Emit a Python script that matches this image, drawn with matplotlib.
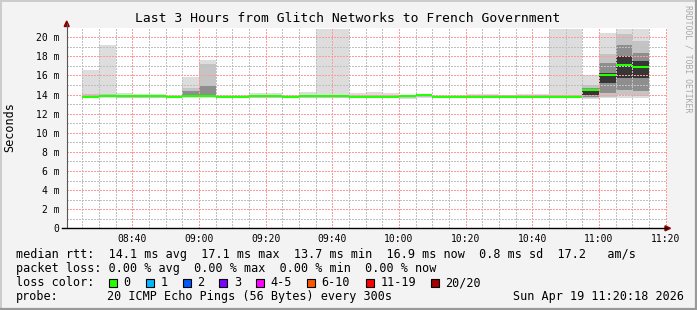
"""SmokePing style latency chart."""
import datetime as dt

import matplotlib

matplotlib.use("Agg")
import matplotlib.dates as mdates
import matplotlib.pyplot as plt
import numpy as np
from matplotlib.lines import Line2D
from matplotlib.patches import Polygon, Rectangle

nan = np.nan

# time bins (300 s step)
first_bin = dt.datetime(2026, 4, 19, 8, 25)
view_start = dt.datetime(2026, 4, 19, 8, 20, 18)
view_end = dt.datetime(2026, 4, 19, 11, 20, 18)
n_bins = 34

# median rtt per bin (ms)
median_ms = [13.76, 13.86, 13.86, 13.86, 13.86, 13.76, 13.86, 13.86, 13.76, 13.76,
             13.86, 13.86, 13.76, 13.84, 13.84, 13.84, 13.77, 13.77, 13.78, 13.86,
             13.93, 13.77, 13.77, 13.77, 13.77, 13.77, 13.77, 13.77, 13.77, 13.77,
             14.52, 16.05, 17.10, 16.89]

# smoke, outermost band (min .. max ping)
smoke1_lo = [13.62, 13.62, 13.62, 13.62, 13.62, 13.62, 13.62, 13.62, 13.62, 13.62,
             13.62, 13.62, 13.62, 13.62, 13.62, 13.62, 13.62, 13.62, 13.62, 13.58,
             13.62, 13.62, 13.62, 13.62, 13.62, 13.62, 13.62, 13.62, 13.62, 13.62,
             13.55, 13.60, 13.62, 13.62]
smoke1_hi = [16.60, 19.20, 14.17, 14.06, 14.06, 13.97, 15.80, 17.60, 13.95, 13.95,
             14.13, 14.13, 13.97, 14.27, 20.90, 20.90, 14.13, 14.24, 14.16, 14.00,
             14.05, 13.95, 13.97, 14.10, 14.05, 13.97, 14.10, 14.05, 20.90, 20.90,
             16.05, 20.45, 20.90, 20.90]

# smoke, second band
smoke2_lo = [13.68, 13.70, 13.68, 13.68, 13.68, 13.68, 13.70, 13.70, 13.68, 13.68,
             13.68, 13.68, 13.68, 13.68, 13.68, 13.68, 13.68, 13.68, 13.68, 13.66,
             13.70, 13.68, 13.68, 13.68, 13.68, 13.68, 13.68, 13.68, 13.68, 13.68,
             13.60, 13.70, 14.00, 13.85]
smoke2_hi = [14.02, 14.05, 13.98, 13.98, 13.98, 13.90, 14.66, 17.17, 13.90, 13.90,
             13.98, 13.98, 13.90, 13.98, 13.98, 13.98, 13.92, 13.92, 13.92, 13.98,
             14.05, 13.90, 13.90, 13.92, 13.92, 13.92, 13.92, 13.92, 13.92, 13.92,
             15.05, 18.20, 20.30, 19.60]

# smoke, third band
smoke3_lo = [nan, nan, nan, nan, nan, nan, 13.72, 13.72, nan, nan,
             nan, nan, nan, nan, nan, nan, nan, nan, nan, nan,
             nan, nan, nan, nan, nan, nan, nan, nan, nan, nan,
             13.75, 14.20, 14.50, 14.35]
smoke3_hi = [nan, nan, nan, nan, nan, nan, 14.40, 14.90, nan, nan,
             nan, nan, nan, nan, nan, nan, nan, nan, nan, nan,
             nan, nan, nan, nan, nan, nan, nan, nan, nan, nan,
             14.65, 17.30, 19.20, 18.36]

# smoke, inner band
smoke4_lo = [nan] * 30 + [14.00, 15.20, 15.70, 15.74]
smoke4_hi = [nan] * 30 + [14.55, 16.30, 18.00, 17.50]

smoke_colors = ["#dddddd", "#c4c4c4", "#8e8e8e", "#363636"]

y_ticks = [0, 2, 4, 6, 8, 10, 12, 14, 16, 18, 20]
y_labels = ["0", "2 m", "4 m", "6 m", "8 m", "10 m", "12 m", "14 m", "16 m", "18 m", "20 m"]
x_labels = ["08:40", "09:00", "09:20", "09:40", "10:00", "10:20", "10:40", "11:00", "11:20"]

title = "Last 3 Hours from Glitch Networks to French Government"
rtt_line = "median rtt:  14.1 ms avg  17.1 ms max  13.7 ms min  16.9 ms now  0.8 ms sd  17.2   am/s"
loss_line = "packet loss: 0.00 % avg  0.00 % max  0.00 % min  0.00 % now"
loss_names = ["0", "1", "2", "3", "4-5", "6-10", "11-19", "20/20"]
loss_colors = ["#26ff00", "#00b8ff", "#0059ff", "#7e00ff", "#ff00ff", "#ff5500", "#ff0000", "#a10000"]
probe_text = "20 ICMP Echo Pings (56 Bytes) every 300s"
stamp_text = "Sun Apr 19 11:20:18 2026"

W, H = 697, 310
MONO = "DejaVu Sans Mono"


def fx(x):
    return x / W


def fy(y):
    return 1 - y / H


fig = plt.figure(figsize=(W / 100, H / 100), dpi=100, facecolor="#f3f3f3")
# plot area: x 66.7..666.7 px, y 28..228.3 px
ax = fig.add_axes([fx(66.7), fy(228.3), 600 / W, 200.3 / H])
ax.set_facecolor("white")

step = dt.timedelta(minutes=5)
starts = mdates.date2num([first_bin + i * step for i in range(n_bins)])
width = 5 / 1440.0

bands = [(smoke1_lo, smoke1_hi), (smoke2_lo, smoke2_hi),
         (smoke3_lo, smoke3_hi), (smoke4_lo, smoke4_hi)]
for (lo, hi), col in zip(bands, smoke_colors):
    lo = np.array(lo)
    hi = np.array(hi)
    ok = np.isfinite(lo) & np.isfinite(hi)
    ax.bar(starts[ok], hi[ok] - lo[ok], bottom=lo[ok], width=width, align="edge",
           color=col, linewidth=0, zorder=1)

ax.hlines(median_ms, starts, starts + width, color="#26ff00", linewidth=1.5, zorder=4)

ax.set_xlim(mdates.date2num(view_start), mdates.date2num(view_end))
ax.set_ylim(0, 20.97)

major_x = [dt.datetime(2026, 4, 19, 8, 40) + i * dt.timedelta(minutes=20) for i in range(9)]
minor_x = [dt.datetime(2026, 4, 19, 8, 25) + i * step for i in range(36)]
minor_x = [t for t in minor_x if t.minute % 20 != 0]
ax.set_xticks(mdates.date2num(major_x))
ax.set_xticklabels(x_labels)
ax.set_xticks(mdates.date2num(minor_x), minor=True)
ax.set_yticks(y_ticks)
ax.set_yticklabels(y_labels)
ax.set_yticks([1, 3, 5, 7, 9, 11, 13, 15, 17, 19], minor=True)

ax.grid(which="minor", color="#c0c0c0", linestyle=(0, (1, 1)), linewidth=1.0,
        antialiased=False, zorder=3)
ax.grid(which="major", color="#ff9a9a", linestyle=(0, (1, 1)), linewidth=1.0,
        antialiased=False, zorder=3)
ax.set_axisbelow(False)

ax.tick_params(which="both", length=0)
ax.tick_params(axis="x", pad=4, labelsize=7)
ax.tick_params(axis="y", pad=5.3, labelsize=7)
for lab in ax.get_xticklabels() + ax.get_yticklabels():
    lab.set_family(MONO)
for s in ax.spines.values():
    s.set_visible(False)

# axes with arrows
fig.add_artist(Line2D([fx(66.7), fx(66.7)], [fy(228.3), fy(24)], color="#555555", lw=0.8))
fig.add_artist(Line2D([fx(62), fx(667)], [fy(228.3), fy(228.3)], color="black", lw=1.0))
fig.add_artist(Polygon([(fx(64.2), fy(26.5)), (fx(69.2), fy(26.5)), (fx(66.7), fy(21))],
                       closed=True, transform=fig.transFigure, color="#8b0000"))
fig.add_artist(Polygon([(fx(665), fy(225.8)), (fx(665), fy(230.8)), (fx(670.5), fy(228.3))],
                       closed=True, transform=fig.transFigure, color="#8b0000"))

# frame shading
fig.add_artist(Line2D([0, 1], [fy(0.5), fy(0.5)], color="#cbcbcb", lw=1.4))
fig.add_artist(Line2D([fx(0.5), fx(0.5)], [0, 1], color="#cbcbcb", lw=1.4))
fig.add_artist(Line2D([0, 1], [fy(309), fy(309)], color="#999999", lw=1.6))
fig.add_artist(Line2D([fx(696), fx(696)], [0, 1], color="#999999", lw=1.6))

# texts
fig.text(fx(348), fy(19), title, ha="center", va="center", family=MONO, fontsize=9.35)
fig.text(fx(10), fy(127), "Seconds", rotation=90, ha="center", va="center",
         family=MONO, fontsize=8.5)
fig.text(fx(688), fy(59), "RRDTOOL / TOBI OETIKER", rotation=270, ha="center", va="center",
         family=MONO, fontsize=5.9, color="#a8a8a8")

fig.text(fx(16), fy(254.5), rtt_line, ha="left", va="center", family=MONO, fontsize=8.5)
fig.text(fx(16), fy(268.5), loss_line, ha="left", va="center", family=MONO, fontsize=8.5)
fig.text(fx(16), fy(282.5), "loss color:", ha="left", va="center", family=MONO, fontsize=8.5)
box_x = [108.7, 145.7, 182.7, 219.3, 256.3, 306.7, 365.7, 430.7]
for bx, name, col in zip(box_x, loss_names, loss_colors):
    fig.add_artist(Rectangle((fx(bx), fy(286.5)), 8 / W, 8 / H, transform=fig.transFigure,
                             facecolor=col, edgecolor="black", linewidth=0.8))
    fig.text(fx(bx + 14.5), fy(282.5), name, ha="left", va="center", family=MONO, fontsize=8.5)
fig.text(fx(16), fy(296.5), "probe:", ha="left", va="center", family=MONO, fontsize=8.5)
fig.text(fx(107.3), fy(296.5), probe_text, ha="left", va="center", family=MONO, fontsize=8.5)
fig.text(fx(513.3), fy(296.5), stamp_text, ha="left", va="center", family=MONO, fontsize=8.5)

fig.savefig("out.png", dpi=100, facecolor=fig.get_facecolor())
